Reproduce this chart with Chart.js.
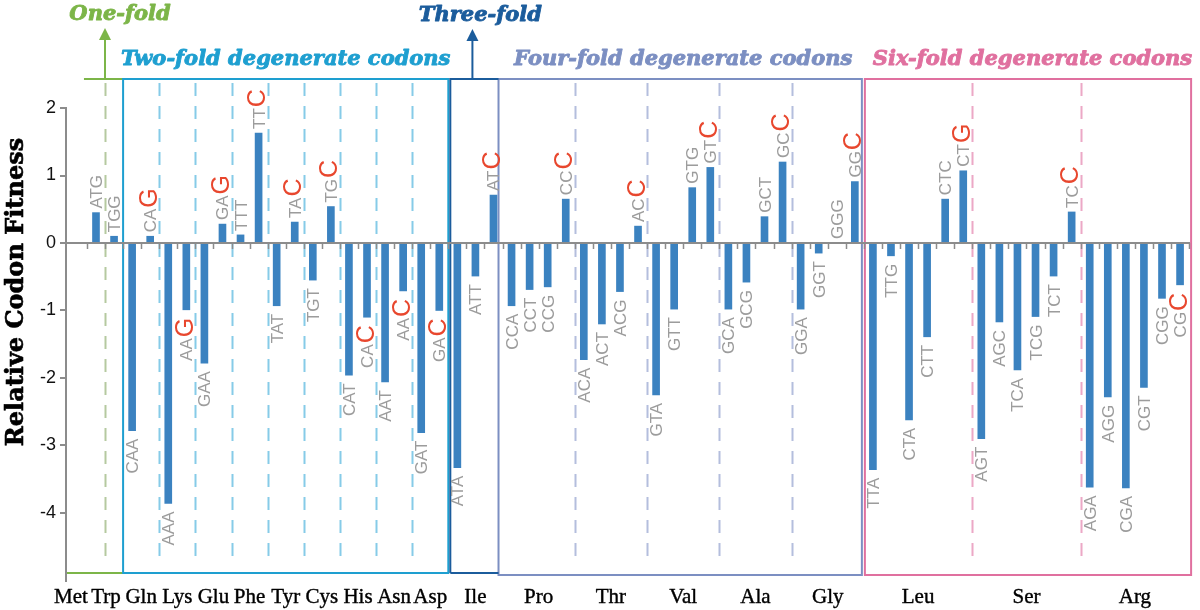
<!DOCTYPE html>
<html><head><meta charset="utf-8">
<script src="https://cdn.jsdelivr.net/npm/chart.js@4.4.1/dist/chart.umd.min.js"></script>
<style>html,body{margin:0;padding:0;background:#fff;}</style>
</head><body>
<canvas id="c" width="1200" height="610"></canvas>
<script>
// ---------------- data ----------------
const aminoAcids = ['Met','Trp','Gln','Lys','Glu','Phe','Tyr','Cys','His','Asn','Asp','Ile','Pro','Thr','Val','Ala','Gly','Leu','Ser','Arg'];
const codonsPerAA = [1,1,2,2,2,2,2,2,2,2,2,3,4,4,4,4,4,6,6,6];
const codons = ['ATG','TGG','CAA','CAG','AAA','AAG','GAA','GAG','TTT','TTC','TAT','TAC','TGT','TGC','CAT','CAC','AAT','AAC','GAT','GAC',
  'ATA','ATT','ATC','CCA','CCT','CCG','CCC','ACA','ACT','ACG','ACC','GTA','GTT','GTG','GTC','GCA','GCG','GCT','GCC','GGA','GGT','GGG','GGC',
  'TTA','TTG','CTA','CTT','CTC','CTG','AGT','AGC','TCA','TCG','TCT','TCC','AGA','AGG','CGA','CGT','CGG','CGC'];
const fitness = [0.45,0.10,-2.78,0.10,-3.86,-0.99,-1.78,0.28,0.12,1.63,-0.93,0.31,-0.55,0.54,-1.96,-1.10,-2.06,-0.71,-2.81,-1.00,
  -3.33,-0.49,0.71,-0.93,-0.69,-0.65,0.65,-1.73,-1.20,-0.72,0.25,-2.25,-0.98,0.82,1.12,-0.98,-0.58,0.39,1.20,-0.98,-0.15,0.00,0.91,
  -3.36,-0.19,-2.62,-1.39,0.65,1.07,-2.90,-1.17,-1.88,-1.09,-0.49,0.46,-3.62,-2.28,-3.63,-2.14,-0.82,-0.62];
const optimalCodons = ['CAG','AAG','GAG','TTC','TAC','TGC','CAC','AAC','GAC','ATC','CCC','ACC','GTC','GCC','GGC','CTG','TCC','CGC'];
const sectionNames = ['One-fold','Two-fold degenerate codons','Three-fold','Four-fold degenerate codons','Six-fold degenerate codons'];
const sectionAACounts = [2,9,1,5,3];
const yTicks = [2,1,0,-1,-2,-3,-4];
const yTitle = 'Relative Codon Fitness';

// ---------------- style ----------------
const BAR = '#3b82c0';
const secColors = ['#7cb548','#1e9fd0','#1b5c9c','#7c8fc2','#e0709f'];
const dashColors = ['#b5c9a0','#86cbe8','#b4bedd','#eca8c6'];
const GRAY_FONT = '17px "Liberation Sans", Arial, sans-serif';
const RED_FONT = '25px "Liberation Sans", Arial, sans-serif';
const SEC_FONT = 'italic bold 21px "DejaVu Serif", serif';

// derived indices
const aaStart = []; { let s = 0; codonsPerAA.forEach(n => { aaStart.push(s); s += n; }); }
const secStartAA = []; { let s = 0; sectionAACounts.forEach(n => { secStartAA.push(s); s += n; }); }

function secRange(k) { // codon index range [first, last]
  const a0 = secStartAA[k], a1 = a0 + sectionAACounts[k] - 1;
  return [aaStart[a0], aaStart[a1] + codonsPerAA[a1] - 1];
}

function boldText(ctx, txt, x, y, w) {
  ctx.lineWidth = w; ctx.strokeStyle = ctx.fillStyle; ctx.lineJoin = 'round';
  ctx.strokeText(txt, x, y); ctx.fillText(txt, x, y);
}

const decoPlugin = {
  id: 'deco',
  beforeDatasetsDraw(chart) {
    const ctx = chart.ctx, xs = chart.scales.x, ca = chart.chartArea;
    const px = v => xs.getPixelForValue(v);
    const top = ca.top, bot = ca.bottom;
    ctx.save();
    // dashed separators
    ctx.lineWidth = 2; ctx.setLineDash([13, 10]);
    for (let k = 0; k < sectionNames.length; k++) {
      const a0 = secStartAA[k];
      for (let a = a0 + 1; a < a0 + sectionAACounts[k]; a++) {
        const x = Math.round(px(aaStart[a] - 0.5)) + 0.5;
        ctx.strokeStyle = dashColors[[0,1,1,2,3][k]];
        ctx.beginPath(); ctx.moveTo(x, top + 4); ctx.lineTo(x, bot - 8); ctx.stroke();
      }
    }
    ctx.setLineDash([]);
    ctx.lineWidth = 2;
    // One-fold
    const r1 = secRange(1);
    ctx.strokeStyle = secColors[0];
    ctx.beginPath();
    ctx.moveTo(px(-0.5) - 3, top); ctx.lineTo(px(r1[0] - 0.5), top);
    ctx.moveTo(ca.left, bot); ctx.lineTo(px(r1[0] - 0.5), bot);
    ctx.stroke();
    // Two-fold
    ctx.strokeStyle = secColors[1];
    ctx.strokeRect(px(r1[0] - 0.5), top, px(r1[1] + 0.5) - px(r1[0] - 0.5), bot - top);
    // Four-fold
    const r3 = secRange(3);
    ctx.strokeStyle = secColors[3];
    ctx.strokeRect(px(r3[0] - 0.5) - 4, top, px(r3[1] + 0.5) - px(r3[0] - 0.5) + 2, bot - top + 2);
    // Six-fold
    const r4 = secRange(4);
    ctx.strokeStyle = secColors[4];
    ctx.strokeRect(px(r4[0] - 0.5) + 1, top, px(r4[1] + 0.5) - px(r4[0] - 0.5) + 1, bot - top + 2);
    // Three-fold
    const r2 = secRange(2);
    ctx.strokeStyle = secColors[2];
    const tL = px(r2[0] - 0.5) + 2, tR = px(r2[1] + 0.5) - 4;
    ctx.beginPath();
    ctx.moveTo(tL, bot); ctx.lineTo(tL, top); ctx.lineTo(tR, top);
    ctx.moveTo(tL, bot); ctx.lineTo(tR, bot);
    ctx.stroke();
    ctx.restore();
  },
  afterDatasetsDraw(chart) {
    const ctx = chart.ctx, xs = chart.scales.x, ys = chart.scales.y, ca = chart.chartArea;
    const px = v => xs.getPixelForValue(v);
    const y0 = ys.getPixelForValue(0);
    const top = ca.top, bot = ca.bottom;
    ctx.save();
    // y axis line
    ctx.strokeStyle = '#8c8c8c'; ctx.lineWidth = 2;
    ctx.beginPath(); ctx.moveTo(ca.left, ys.getPixelForValue(yTicks[0]) - 1); ctx.lineTo(ca.left, bot + 9); ctx.stroke();
    // zero line + ticks
    ctx.beginPath(); ctx.moveTo(ca.left, y0); ctx.lineTo(ca.right, y0); ctx.stroke();
    ctx.lineWidth = 1.5;
    ctx.beginPath();
    for (let i = -1; i < codons.length; i++) {
      const x = Math.round(px(i + 0.5)) + 0.5;
      ctx.moveTo(x, y0); ctx.lineTo(x, y0 + 6);
    }
    ctx.stroke();

    // codon labels
    const meta = chart.getDatasetMeta(0);
    meta.data.forEach((bar, i) => {
      const codon = codons[i], v = fitness[i];
      const isOpt = optimalCodons.includes(codon);
      const gray = isOpt ? codon.slice(0, 2) : codon;
      const red = isOpt ? codon.slice(2) : '';
      ctx.font = GRAY_FONT; const wg = ctx.measureText(gray).width;
      ctx.font = RED_FONT; const wr = red ? ctx.measureText(red).width : 0;
      const total = wg + wr + (red ? 1 : 0);
      const yStart = v >= 0 ? bar.y - 4 : bar.y + 8 + total;
      ctx.save();
      ctx.translate(bar.x, yStart); ctx.rotate(-Math.PI / 2);
      ctx.textAlign = 'left'; ctx.textBaseline = 'alphabetic';
      ctx.font = GRAY_FONT; ctx.fillStyle = '#9c9c9c'; ctx.fillText(gray, 0, 6);
      if (red) { ctx.font = RED_FONT; ctx.fillStyle = '#e8472e'; ctx.fillText(red, wg + 1, 6.5); }
      ctx.restore();
    });

    // arrows
    function arrow(x, yFrom, yTo, color) {
      ctx.strokeStyle = color; ctx.fillStyle = color; ctx.lineWidth = 2;
      ctx.beginPath(); ctx.moveTo(x, yFrom); ctx.lineTo(x, yTo + 8); ctx.stroke();
      ctx.beginPath(); ctx.moveTo(x, yTo); ctx.lineTo(x - 6, yTo + 12); ctx.lineTo(x + 6, yTo + 12); ctx.closePath(); ctx.fill();
    }
    const xOne = px(0.5);
    const r2 = secRange(2);
    const xThree = (px(r2[0] - 0.5) + px(r2[1] + 0.5)) / 2 - 3;
    arrow(xOne, top, 28, secColors[0]);
    arrow(xThree, top, 29, secColors[2]);

    // section titles
    ctx.font = SEC_FONT; ctx.textAlign = 'center'; ctx.textBaseline = 'alphabetic';
    ctx.fillStyle = secColors[0]; boldText(ctx, sectionNames[0], xOne + 15, 20, 0.9);
    ctx.fillStyle = secColors[2]; boldText(ctx, sectionNames[2], xThree + 8, 21, 0.9);
    [1, 3, 4].forEach(k => {
      const r = secRange(k);
      const cx = (px(r[0] - 0.5) + px(r[1] + 0.5)) / 2 + (k === 4 ? 6 : 0);
      ctx.fillStyle = secColors[k]; boldText(ctx, sectionNames[k], cx, 65, 0.9);
    });

    // amino-acid labels
    ctx.font = '21px "Liberation Serif", "Times New Roman", serif'; ctx.fillStyle = '#000'; ctx.textAlign = 'center';
    const nudge = [-25, -8];
    aminoAcids.forEach((aa, a) => {
      const c = (px(aaStart[a]) + px(aaStart[a] + codonsPerAA[a] - 1)) / 2 + (nudge[a] || 0);
      boldText(ctx, aa, c, 603, 0.4);
    });

    // y title
    ctx.save();
    ctx.translate(17, 292); ctx.rotate(-Math.PI / 2);
    ctx.font = 'bold 24px "DejaVu Serif", serif'; ctx.textAlign = 'center'; ctx.textBaseline = 'middle';
    ctx.fillStyle = '#000'; boldText(ctx, yTitle, 0, 0, 0.6);
    ctx.restore();
    ctx.restore();
  }
};

new Chart(document.getElementById('c').getContext('2d'), {
  type: 'bar',
  data: { datasets: [{ data: codons.map((c, i) => ({ x: i, y: fitness[i] })), backgroundColor: BAR, borderWidth: 0, barThickness: 7 }] },
  options: {
    responsive: false, animation: false,
    layout: { padding: { left: 0, right: 10, top: 79, bottom: 37 } },
    plugins: { legend: { display: false }, tooltip: { enabled: false } },
    scales: {
      x: { type: 'linear', min: -1.66, max: 60.55, offset: false, display: false },
      y: {
        min: -4.89, max: 2.43,
        afterFit: s => { s.width = 66; },
        afterBuildTicks: s => { s.ticks = yTicks.map(v => ({ value: v })); },
        border: { display: false },
        grid: { drawOnChartArea: false, drawTicks: true, tickLength: 6, color: '#8c8c8c', lineWidth: 2 },
        ticks: { font: { family: '"Liberation Sans", Arial, sans-serif', size: 18 }, color: '#111', padding: 4 }
      }
    }
  },
  plugins: [decoPlugin]
});
</script>
</body></html>
